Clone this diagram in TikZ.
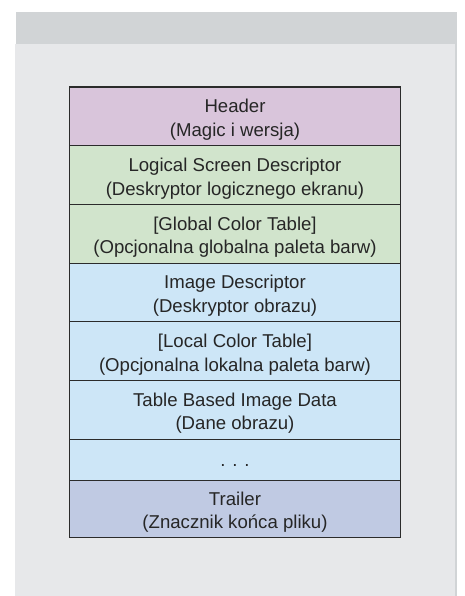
\documentclass[tikz,border=0pt]{standalone}
\usepackage{fontspec}
\setmainfont{Liberation Sans}
\usepackage{xcolor}
\usepackage{tikz}
\usetikzlibrary{positioning}

\definecolor{bandgray}{HTML}{D1D4D6}
\definecolor{panelgray}{HTML}{E7E8EA}
\definecolor{hdrpink}{HTML}{D9C5DB}
\definecolor{lsdgreen}{HTML}{D1E4CC}
\definecolor{imgblue}{HTML}{CDE6F7}
\definecolor{trlblue}{HTML}{C0CAE3}
\definecolor{edgegray}{HTML}{2B2B2B}
\definecolor{txtgray}{HTML}{262626}

\begin{document}
\begin{tikzpicture}[x=1pt, y=-1pt,
    gifblock/.style={draw=edgegray, line width=1.2pt, outer sep=0pt, inner sep=0pt,
      minimum width=331.4pt, minimum height=58.7pt, align=center, text=txtgray,
      text height=40pt, text depth=0pt,
      font=\fontsize{18.6}{23.5}\selectfont}]
  % Page and panel
  \useasboundingbox (0,0) rectangle (464,596);
  \fill[white] (0,0) rectangle (464,596);
  \fill[bandgray] (16,12) rectangle (457,44);
  \fill[panelgray] (15,44) rectangle (455,596);
  \fill[bandgray] (455,44) rectangle (457,596);

  % GIF file blocks
  \node[gifblock, fill=hdrpink] (hdr) at (235,116.35) {Header\\(Magic i wersja)};
  \node[gifblock, fill=lsdgreen, below=0pt of hdr] (lsd)
    {Logical Screen Descriptor\\(Deskryptor logicznego ekranu)};
  \node[gifblock, fill=lsdgreen, below=0pt of lsd] (gct)
    {[Global Color Table]\\(Opcjonalna globalna paleta barw)};
  \node[gifblock, fill=imgblue, below=0pt of gct] (imgd)
    {Image Descriptor\\(Deskryptor obrazu)};
  \node[gifblock, fill=imgblue, below=0pt of imgd] (lct)
    {[Local Color Table]\\(Opcjonalna lokalna paleta barw)};
  \node[gifblock, fill=imgblue, below=0pt of lct] (tbid)
    {Table Based Image Data\\(Dane obrazu)};
  \node[gifblock, fill=imgblue, minimum height=41pt, text height=14.4pt,
    below=0pt of tbid] (more) {. . .};
  \node[gifblock, fill=trlblue, minimum height=57pt, below=0pt of more] (trl)
    {Trailer\\(Znacznik końca pliku)};
\end{tikzpicture}
\end{document}
